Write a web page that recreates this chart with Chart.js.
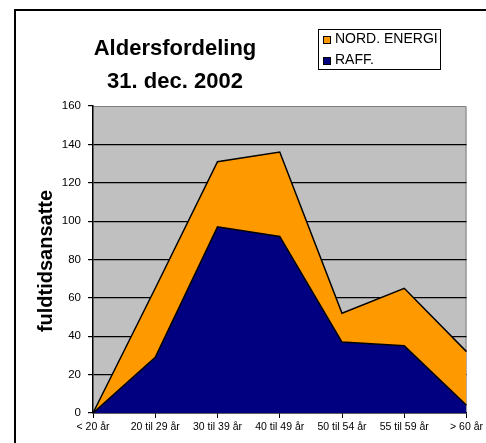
<!DOCTYPE html>
<html>
<head>
<meta charset="utf-8">
<script src="https://cdn.jsdelivr.net/npm/chart.js@4.4.1/dist/chart.umd.min.js"></script>
<style>
  body { margin: 0; background: #fff; font-family: "Liberation Sans", Arial, sans-serif; }
  #wrap { position: relative; width: 486px; height: 443px; overflow: hidden; }
  #frame { position: absolute; left: 14px; top: 9px; width: 600px; height: 600px; border: 2px solid #000; }
  #chart { position: absolute; left: 0; top: 0; }
  #title { position: absolute; left: 75px; top: 31px; width: 200px; text-align: center;
           font-weight: bold; font-size: 22px; line-height: 33px; color: #000; }
  #legend { position: absolute; left: 318px; top: 29px; width: 121px; height: 39px;
            border: 1.5px solid #000; background: #fff; font-size: 14px; }
  #legend div { position: absolute; left: 16px; height: 16px; line-height: 16px; white-space: nowrap; }
  #legend span { position: absolute; left: 4px; width: 6px; height: 6px; border: 1px solid #000; }
  #ylabel { position: absolute; left: -55px; top: 251px; width: 200px; height: 20px; line-height: 20px;
            text-align: center; font-weight: bold; font-size: 20px; transform: rotate(-90deg); }
</style>
</head>
<body>
<div id="wrap">
  <div id="frame"></div>
  <canvas id="chart" width="486" height="443"></canvas>
  <div id="title">Aldersfordeling<br>31. dec. 2002</div>
  <div id="legend">
    <span style="top:6px; background:#FF9900"></span>
    <div style="top:0px">NORD. ENERGI</div>
    <span style="top:27px; background:#000080"></span>
    <div style="top:21px">RAFF.</div>
  </div>
  <div id="ylabel">fuldtidsansatte</div>
</div>
<script>
// data
const ageGroups = ["< 20 år", "20 til 29 år", "30 til 39 år", "40 til 49 år", "50 til 54 år", "55 til 59 år", "> 60 år"];
const raffValues = [0, 29, 97, 92, 37, 35, 4];
const nordValues = [0, 36, 34, 44, 15, 30, 28];
const yTicks = [0, 20, 40, 60, 80, 100, 120, 140, 160];

// gray plot area + border
const plotBg = {
  id: "plotBg",
  beforeDraw(chart) {
    const { ctx, chartArea: a } = chart;
    ctx.save();
    ctx.fillStyle = "#C0C0C0";
    ctx.fillRect(a.left, a.top, a.right - a.left, a.bottom - a.top);
    ctx.strokeStyle = "#808080";
    ctx.lineWidth = 1;
    ctx.beginPath();
    ctx.moveTo(a.left, a.top + 0.5);
    ctx.lineTo(a.right - 0.5, a.top + 0.5);
    ctx.lineTo(a.right - 0.5, a.bottom);
    ctx.stroke();
    ctx.restore();
  }
};

new Chart(document.getElementById("chart").getContext("2d"), {
  type: "line",
  data: {
    labels: ageGroups,
    datasets: [
      {
        label: "RAFF.",
        data: raffValues,
        backgroundColor: "#000080",
        borderColor: "#000",
        borderWidth: 1.5,
        fill: "origin",
        pointRadius: 0,
        tension: 0
      },
      {
        label: "NORD. ENERGI",
        data: nordValues,
        backgroundColor: "#FF9900",
        borderColor: "#000",
        borderWidth: 1.5,
        fill: "-1",
        pointRadius: 0,
        tension: 0
      }
    ]
  },
  options: {
    responsive: false,
    animation: false,
    layout: { padding: { top: 106, right: 19, left: 0, bottom: 0 } },
    plugins: {
      legend: { display: false },
      title: { display: false },
      tooltip: { enabled: false }
    },
    scales: {
      x: {
        offset: false,
        afterFit: s => { s.height = 30; },
        grid: { drawOnChartArea: false, drawTicks: true, tickLength: 5, tickColor: "#000" },
        border: { color: "#000", width: 1.5 },
        ticks: {
          autoSkip: false, maxRotation: 0, minRotation: 0, padding: 3,
          color: "#000", font: { family: "Liberation Sans, Arial", size: 10.5 }
        }
      },
      y: {
        stacked: true,
        min: 0,
        max: 160,
        afterFit: s => { s.width = 93; },
        afterBuildTicks: s => { s.ticks = yTicks.map(v => ({ value: v })); },
        grid: {
          color: c => (c.tick && c.tick.value === 160 ? "rgba(0,0,0,0)" : "#000"),
          lineWidth: 1.2,
          tickColor: "#000",
          tickLength: 5
        },
        border: { color: "#000", width: 1.5 },
        ticks: { padding: 7, color: "#000", font: { family: "Liberation Sans, Arial", size: 11.5 } }
      }
    }
  },
  plugins: [plotBg]
});
</script>
</body>
</html>
